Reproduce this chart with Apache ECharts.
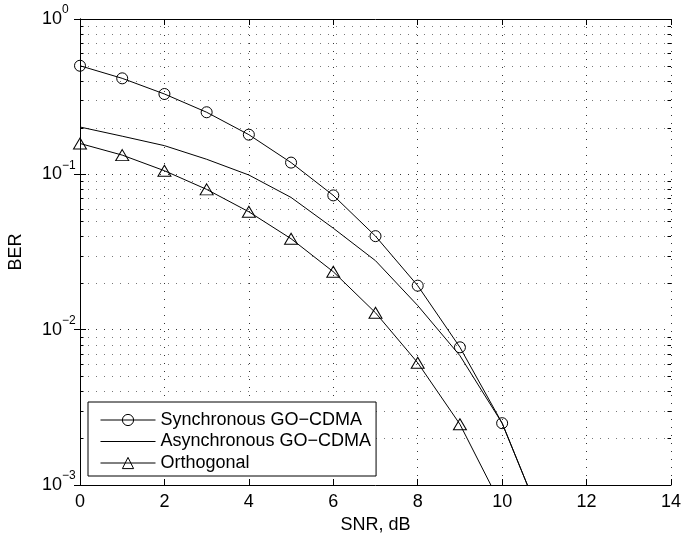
<!DOCTYPE html>
<html>
<head>
<meta charset="utf-8">
<script src="https://cdn.jsdelivr.net/npm/echarts@6/dist/echarts.min.js"></script>
<style>
html,body{margin:0;padding:0;background:#fff;}
#chart{width:681px;height:535px;}
</style>
</head>
<body>
<div id="chart"></div>
<script>
// ---- data ----
const snr = [0, 1, 2, 3, 4, 5, 6, 7, 8, 9, 10, 11];
const syncBER = [0.50, 0.415, 0.329, 0.251, 0.18, 0.119, 0.0732, 0.040, 0.0192, 0.0077, 0.0025, 0.00054];
const asyncBER = [0.2017, 0.176, 0.153, 0.125, 0.099, 0.071, 0.045, 0.0278, 0.0143, 0.0068, 0.0025, 0.00054];
const orthBER = [0.158, 0.133, 0.1055, 0.080, 0.0574, 0.0385, 0.0236, 0.01285, 0.00612, 0.00246, 0.00072];
const seriesNames = ['Synchronous GO\u2212CDMA', 'Asynchronous GO\u2212CDMA', 'Orthogonal'];
const xTicks = [0, 2, 4, 6, 8, 10, 12, 14];
const yMajor = [0.001, 0.01, 0.1, 1];
const yMinor = [0.002, 0.003, 0.004, 0.005, 0.006, 0.007, 0.008, 0.009,
                0.02, 0.03, 0.04, 0.05, 0.06, 0.07, 0.08, 0.09,
                0.2, 0.3, 0.4, 0.5, 0.6, 0.7, 0.8, 0.9];

const FONT = 'Liberation Sans, Arial, Helvetica, sans-serif';
const pairs = (xs, ys) => ys.map((y, i) => [xs[i], y]);

const chart = echarts.init(document.getElementById('chart'), null, {renderer: 'canvas'});

const supLabel = v => {
  const e = Math.round(Math.log10(v));
  const s = e < 0 ? '\u2212' + Math.abs(e) : String(e);
  return '{b|10}{s|' + s + '}';
};

const lineBase = {
  type: 'line',
  xAxisIndex: 0, yAxisIndex: 0,
  clip: true,
  animation: false,
  emphasis: {disabled: true},
  lineStyle: {color: '#000', width: 1},
  z: 5
};

const option = {
  backgroundColor: '#fff',
  animation: false,
  textStyle: {fontFamily: FONT},
  grid: {left: 80, right: 10, top: 19, bottom: 50, containLabel: false, outerBoundsMode: 'none'},
  legend: {
    data: [
      {name: seriesNames[0]},
      {name: seriesNames[1], itemStyle: {color: 'none', borderColor: 'none', borderWidth: 0, opacity: 0}},
      {name: seriesNames[2]}
    ],
    orient: 'vertical',
    left: 88, top: 402,
    padding: [9, 5, 4, 12],
    itemGap: 3.5,
    itemWidth: 55, itemHeight: 14,
    borderColor: '#000', borderWidth: 1, borderRadius: 0,
    backgroundColor: '#fff',
    selectedMode: false,
    lineStyle: {width: 1, color: '#000'},
    itemStyle: {borderWidth: 1, borderColor: '#000', color: 'none'},
    textStyle: {fontSize: 18, color: '#000', lineHeight: 18, fontFamily: FONT},
    z: 20
  },
  xAxis: [{
    type: 'value', min: 0, max: 14, interval: 2, position: 'bottom',
    name: 'SNR, dB', nameLocation: 'middle', nameGap: 24,
    nameTextStyle: {fontSize: 18, color: '#000', fontFamily: FONT},
    axisLine: {lineStyle: {color: '#000', width: 1}},
    axisTick: {inside: true, length: 6, lineStyle: {color: '#000'}},
    axisLabel: {fontSize: 18, color: '#000', margin: 8, fontFamily: FONT,
      formatter: v => xTicks.indexOf(v) >= 0 ? String(v) : ''},
    splitLine: {show: true, lineStyle: {color: '#333', width: 1, type: [1, 7]}}
  }, {
    type: 'value', min: 0, max: 14, interval: 2, position: 'top',
    axisLine: {lineStyle: {color: '#000', width: 1}},
    axisTick: {inside: true, length: 6, lineStyle: {color: '#000'}},
    axisLabel: {show: false},
    splitLine: {show: false}
  }],
  yAxis: [{
    type: 'log', logBase: 10, min: 0.001, max: 1, position: 'left',
    name: 'BER', nameLocation: 'middle', nameGap: 55,
    nameTextStyle: {fontSize: 18, color: '#000', fontFamily: FONT},
    axisLine: {lineStyle: {color: '#000', width: 1}},
    axisTick: {inside: true, length: 6, lineStyle: {color: '#000'}},
    axisLabel: {
      margin: 38, align: 'left', color: '#000',
      formatter: supLabel,
      rich: {
        b: {fontSize: 18, lineHeight: 30, color: '#000', fontFamily: FONT, verticalAlign: 'middle'},
        s: {fontSize: 12, lineHeight: 12, color: '#000', fontFamily: FONT, verticalAlign: 'top'}
      }
    },
    splitLine: {show: true, lineStyle: {color: '#333', width: 1, type: [1, 7]}}
  }, {
    type: 'log', logBase: 10, min: 0.001, max: 1, position: 'right',
    axisLine: {lineStyle: {color: '#000', width: 1}},
    axisTick: {inside: true, length: 6, lineStyle: {color: '#000'}},
    axisLabel: {show: false},
    splitLine: {show: false}
  }],
  series: [
    {
      name: 'minorGrid',
      type: 'custom',
      xAxisIndex: 0, yAxisIndex: 0,
      silent: true,
      animation: false,
      z: 1,
      data: yMinor.map(v => [0, v]),
      encode: {x: 0, y: 1},
      renderItem: (params, api) => {
        const v = api.value(1);
        const p0 = api.coord([0, v]);
        const p1 = api.coord([14, v]);
        const y = Math.round(p0[1]) + 0.5;
        return {
          type: 'group',
          children: [
            {type: 'line', shape: {x1: p0[0], y1: y, x2: p1[0], y2: y},
              style: {stroke: '#777', lineWidth: 1, lineDash: [1, 7]}},
            {type: 'line', shape: {x1: p0[0], y1: y, x2: p0[0] + 3.5, y2: y},
              style: {stroke: '#000', lineWidth: 1}},
            {type: 'line', shape: {x1: p1[0] - 3.5, y1: y, x2: p1[0], y2: y},
              style: {stroke: '#000', lineWidth: 1}}
          ]
        };
      }
    },
    Object.assign({}, lineBase, {
      name: seriesNames[0],
      data: pairs(snr, syncBER),
      symbol: 'circle', symbolSize: 11,
      itemStyle: {color: 'none', borderColor: '#000', borderWidth: 1}
    }),
    Object.assign({}, lineBase, {
      name: seriesNames[1],
      data: pairs(snr, asyncBER),
      symbol: 'none', showSymbol: false,
      itemStyle: {color: '#000'}
    }),
    Object.assign({}, lineBase, {
      name: seriesNames[2],
      data: pairs(snr, orthBER),
      symbol: 'triangle', symbolSize: [13, 11],
      itemStyle: {color: 'none', borderColor: '#000', borderWidth: 1}
    })
  ]
};

chart.setOption(option);
</script>
</body>
</html>
